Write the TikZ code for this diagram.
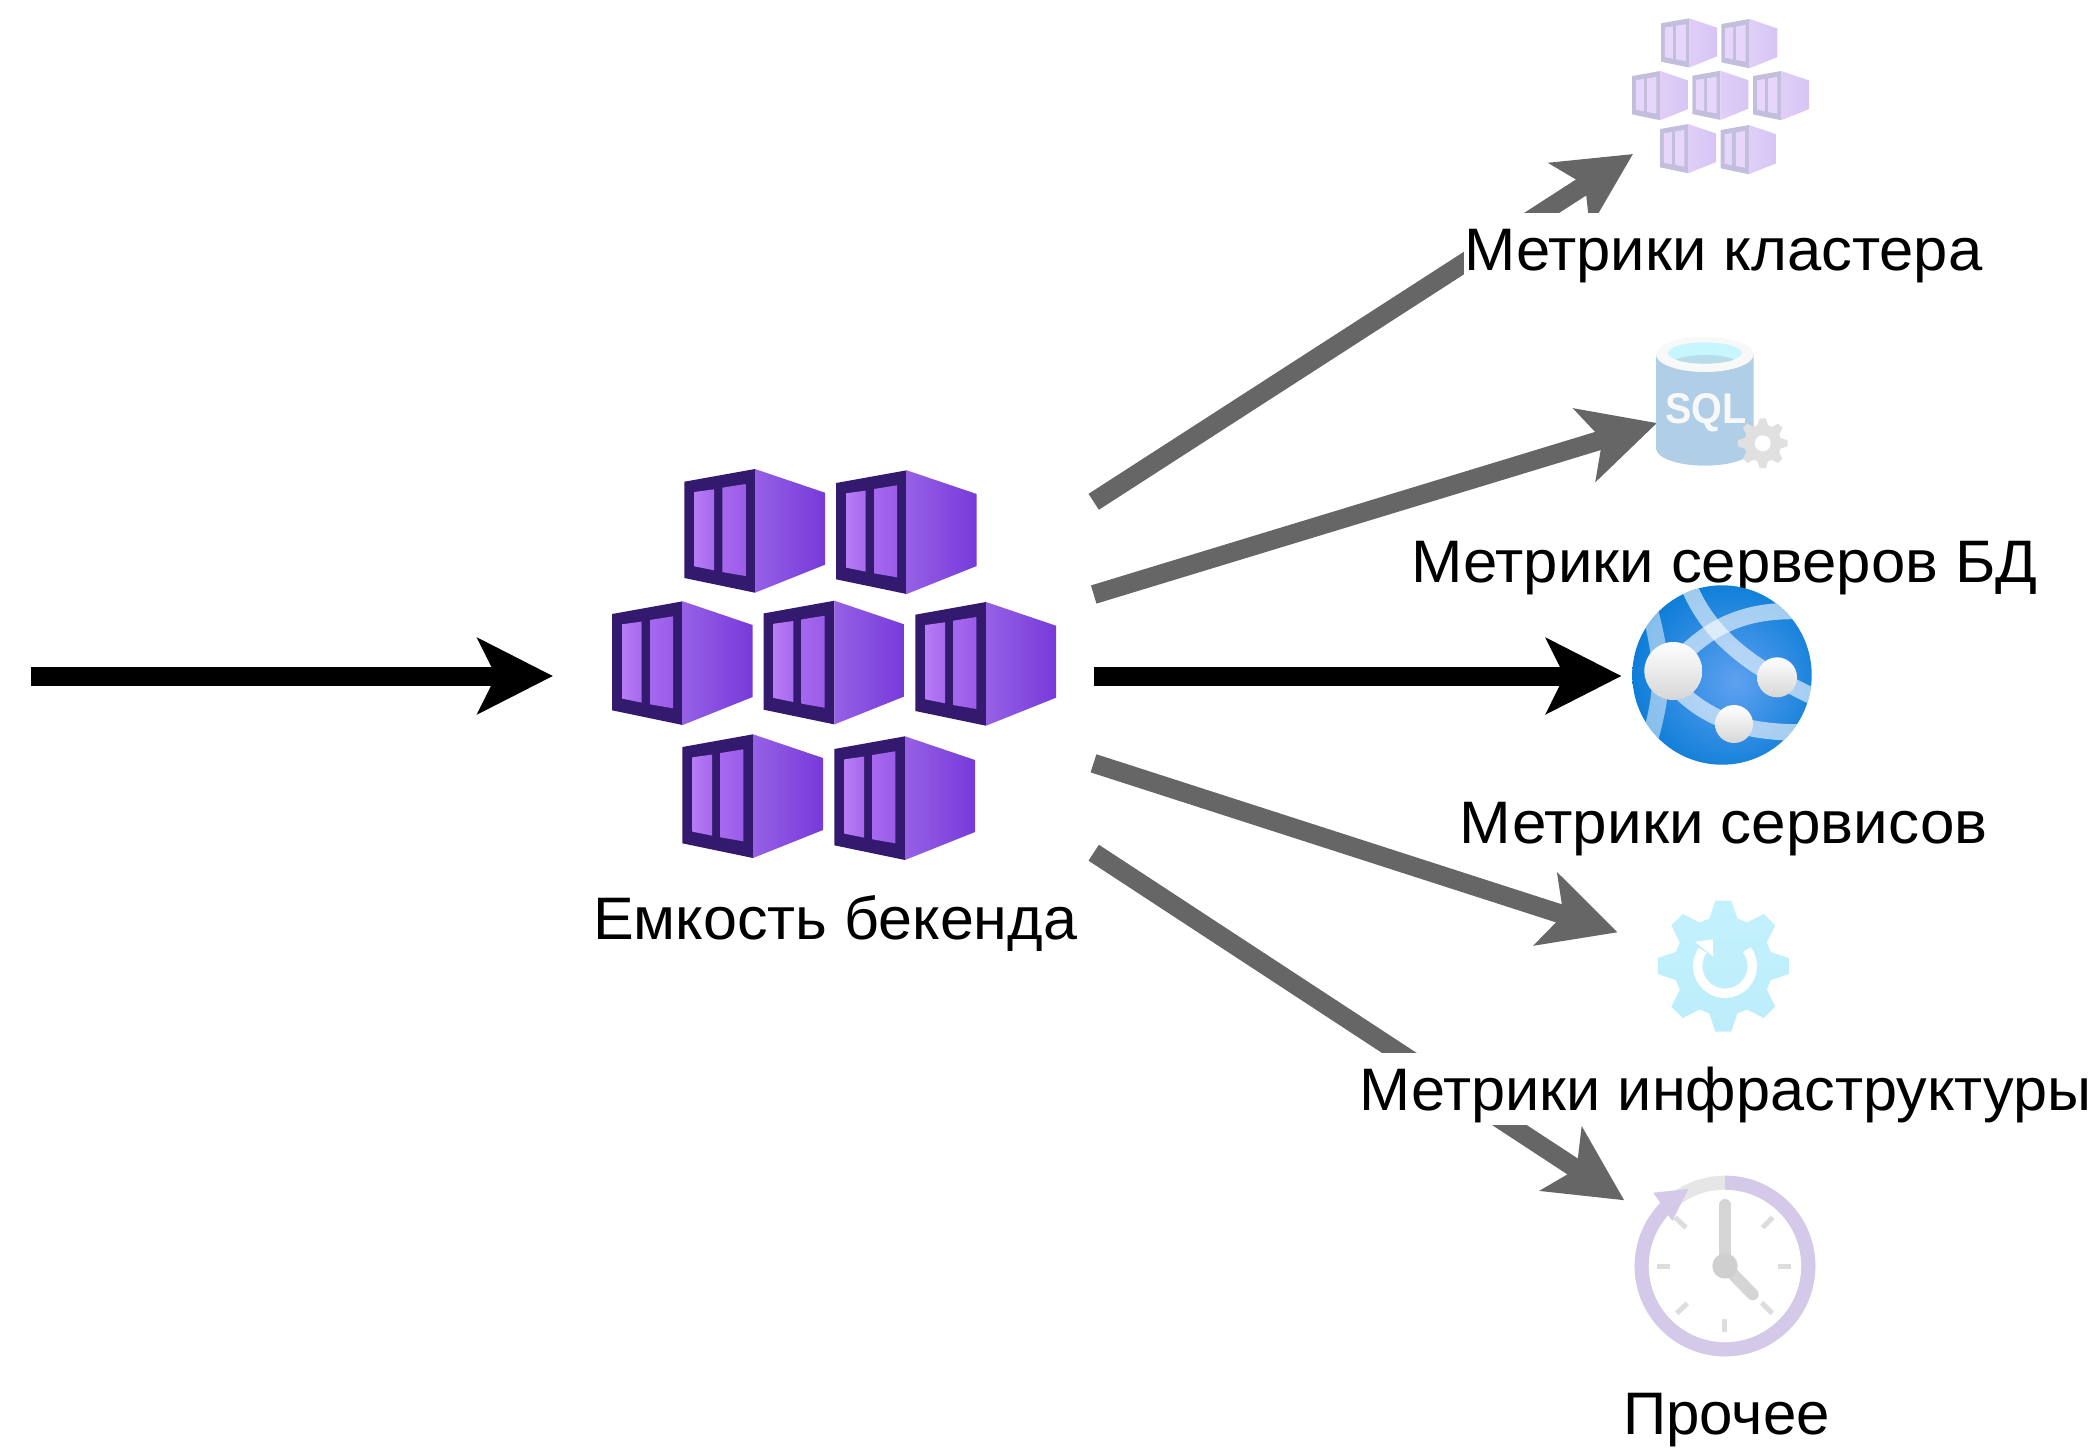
\documentclass[tikz,border=0pt]{standalone}
\usepackage{fontspec}
\setmainfont{Liberation Sans}
\usetikzlibrary{arrows.meta}
\pgfdeclareradialshading{webappglow}{\pgfpoint{4bp}{-2bp}}{rgb(0bp)=(0.37,0.63,0.94); rgb(32bp)=(0.0,0.47,0.83); rgb(60bp)=(0.0,0.47,0.83)}
\definecolor{arrowgray}{HTML}{666666}
\definecolor{cdark}{HTML}{341A6E}
\definecolor{csideL}{HTML}{9660E6}
\definecolor{csideR}{HTML}{773ADA}
\definecolor{cwinL}{HTML}{B77CF5}
\definecolor{cwinM}{HTML}{A668EE}
\definecolor{cwinR}{HTML}{9A5CE8}
\definecolor{clocktick}{HTML}{DDDDDD}
\definecolor{clockhand}{HTML}{D5D5D5}
\definecolor{clockring}{HTML}{D4C9E8}
\definecolor{cdarkpale}{HTML}{C3BEDC}
\definecolor{csidepale}{HTML}{DFCFF7}
\definecolor{csidepaleb}{HTML}{D7C4F5}
\definecolor{cwinpale}{HTML}{E7D6FB}
\definecolor{sqlA}{HTML}{B0CEE6}
\definecolor{sqlB}{HTML}{B3D8F3}
\definecolor{sqlrim}{HTML}{F8F8F9}
\definecolor{sqlwater}{HTML}{C8F6FE}
\definecolor{sqlshade}{HTML}{B8DDE9}
\definecolor{gearsmall}{HTML}{E0E0E0}
\definecolor{gearbigA}{HTML}{C3F2FE}
\definecolor{gearbigB}{HTML}{BDEDFA}
\definecolor{webnode}{HTML}{D6D6D6}
\definecolor{clockgrey}{HTML}{E6E6E6}
\definecolor{clockhub}{HTML}{CFCFCF}
\tikzset{
  flow/.style={line width=19pt,-{Stealth[length=75pt,width=75pt,inset=18pt]}},
  blackflow/.style={flow,draw=black},
  grayflow/.style={flow,draw=arrowgray},
  caption/.style={anchor=base west,inner sep=0pt,fill=white,text height=57pt,text depth=15pt,font=\fontsize{60}{72}\selectfont,text=black},
  cfront/.style={fill=cdark},
  cside/.style={left color=csideL,right color=csideR,draw=none},
  cwinA/.style={left color=cwinL,right color=cwinM,draw=none},
  cwinB/.style={left color=cwinM,right color=cwinR,draw=none},
  container/.pic={
    \fill[cfront] (0,12.7) -- (70.7,0) -- (70.7,123.7) -- (0,109) -- cycle;
    \shade[cside] (70.7,0) -- (140.7,23.7) -- (140.7,95.7) -- (70.7,123.7) -- cycle;
    \shade[cwinA] (10,23) -- (29.7,20.3) -- (29.7,101.3) -- (10,97.3) -- cycle;
    \shade[cwinB] (38,18.7) -- (61,15) -- (61,107) -- (38,103) -- cycle;
  },
  gearshape/.pic={
    \shade[pic actions] (-16.5:49.5) \foreach \a in {0,45,...,315}{ -- (\a-16.5:49.5) -- (\a-7:66) -- (\a+7:66) -- (\a+16.5:49.5) } -- cycle;
  },
  webband/.style={draw=white,opacity=.6,line width=16.5pt},
  tickmark/.style={draw=clocktick,line width=5pt},
  hand/.style={draw=clockhand,line width=12pt,line cap=round},
}
\begin{document}
\begin{tikzpicture}[x=1pt,y=-1pt]
\useasboundingbox (0,0) rectangle (2091,1452);
% arrow ends
\coordinate (inS) at (31,676);
\coordinate (inT) at (553,676);
\coordinate (clS) at (1093.7,501.8);
\coordinate (clT) at (1633,154);
\coordinate (dbS) at (1093.7,594.5);
\coordinate (dbT) at (1657,423);
\coordinate (svS) at (1093.7,676);
\coordinate (svT) at (1621.5,676);
\coordinate (inftS) at (1093.5,763.3);
\coordinate (inftT) at (1617.7,932.3);
\coordinate (otS) at (1093.7,852.7);
\coordinate (otT) at (1624.3,1200.3);
\draw[blackflow] (inS) -- (inT);
\draw[blackflow] (svS) -- (svT);
\draw[grayflow] (clS) -- (clT);
\draw[grayflow] (dbS) -- (dbT);
\draw[grayflow] (inftS) -- (inftT);
\draw[grayflow] (otS) -- (otT);
% captions
\node[caption] (capBack) at (593,939) {\scalebox{1.017}[1]{Емкость бекенда}};
\node[caption] (capCl) at (1464,270) {\scalebox{1.026}[1]{Метрики кластера}};
\node[caption] (capDb) at (1411,582) {\scalebox{1.028}[1]{Метрики серверов БД}};
\node[caption] (capSv) at (1459.5,843) {\scalebox{1.033}[1]{Метрики сервисов}};
\node[caption] (capInf) at (1359.5,1110) {\scalebox{1.021}[1]{Метрики инфраструктуры}};
\node[caption] (capOt) at (1623,1434) {Прочее};
% large container group
\foreach \x/\y in {684.3/469, 836/470.3, 612/601.3, 763.7/600.7, 915.3/602, 682.3/734.3, 834.3/736.3}
  \pic at (\x,\y) {container};
% small pale container group
\begin{scope}[cfront/.style={fill=cdarkpale},
  cside/.style={left color=csidepale,right color=csidepaleb,draw=none},
  cwinA/.style={left color=cwinpale,right color=cwinpale,draw=none},
  cwinB/.style={left color=cwinpale,right color=cwinpale,draw=none}]
\foreach \x/\y in {1661/18.3, 1721.3/19, 1632/71, 1692.3/70.7, 1753/71, 1660/124, 1720.7/125}
  \pic[scale=.398] at (\x,\y) {container};
\end{scope}
% SQL icon
\begin{scope}[shift={(1630,320)},scale=1/3]
\shade[left color=sqlA,middle color=sqlB,right color=sqlA] (78,103) -- (78,385) arc[start angle=180,end angle=0,x radius=146.5,y radius=52] -- (371,103) -- cycle;
\fill[sqlrim] (224.5,103) ellipse[x radius=146.5,y radius=53];
\begin{scope}
\clip (224.5,99) ellipse[x radius=111,y radius=32];
\fill[sqlwater] (224.5,99) ellipse[x radius=111,y radius=32];
\fill[sqlshade] (224.5,135) ellipse[x radius=105,y radius=30];
\end{scope}
\node[anchor=base west,inner sep=0pt,text=sqlrim,font=\fontsize{43}{50}\selectfont\bfseries] (sqlText) at (106,310) {\scalebox{.92}[1]{SQL}};
\end{scope}
\pic[scale=25/66,top color=gearsmall,bottom color=gearsmall] at (1762.7,443.3) {gearshape};
\fill[white] (1762.7,443.3) circle[radius=8];
% web app icon
\shade[shading=webappglow] (1722,675) circle[radius=89.7];
\begin{scope}[shift={(1620,575)},scale=1/3]
\clip (306,300) circle[radius=269];
\draw[webband] (205,30) .. controls (270,190) and (400,280) .. (590,370);
\draw[webband] (170,260) .. controls (270,150) and (380,105) .. (530,108);
\draw[webband,opacity=.5] (88,100) .. controls (135,280) and (130,350) .. (85,510);
\draw[webband] (170,340) .. controls (260,430) and (370,475) .. (550,472);
\shade[top color=white,bottom color=webnode] (160,288) circle[radius=87];
\shade[top color=white,bottom color=webnode] (471,307) circle[radius=60];
\shade[top color=white,bottom color=webnode] (342,447) circle[radius=57];
\end{scope}
% big pale gear
\pic[top color=gearbigA,bottom color=gearbigB] at (1723.3,966) {gearshape};
\draw[white,line width=9.3pt] (1725,966) ++(-37:27.3) arc[start angle=-37,end angle=215,radius=27.3];
\coordinate (gearArrowA) at (1695,941.7);
\coordinate (gearArrowB) at (1712.7,939.3);
\coordinate (gearArrowC) at (1713.3,956.7);
\fill[white] (gearArrowA) -- (gearArrowB) -- (gearArrowC) -- cycle;
% clock icon
\begin{scope}[shift={(1620,1160)},scale=1/3]
\draw[draw=clockgrey,line width=14pt] (315,318) circle[radius=250];
\draw[draw=clockring,line width=14pt] (315,68) arc[start angle=270,end angle=585,radius=250];
\fill[clockring] (100,98) -- (205,87) -- (157,183) -- cycle;
\draw[tickmark] (165,172) -- (198,203);
\draw[tickmark] (428,203) -- (458,172);
\draw[tickmark] (110,318) -- (150,318);
\draw[tickmark] (473,318) -- (513,318);
\draw[tickmark] (313,477) -- (313,517);
\draw[tickmark] (170,460) -- (202,430);
\draw[tickmark] (425,428) -- (457,460);
\draw[hand] (315,135) -- (315,318);
\draw[hand] (315,318) -- (398,403);
\fill[clockhub] (315,318) circle[radius=38];
\end{scope}
\end{tikzpicture}
\end{document}
